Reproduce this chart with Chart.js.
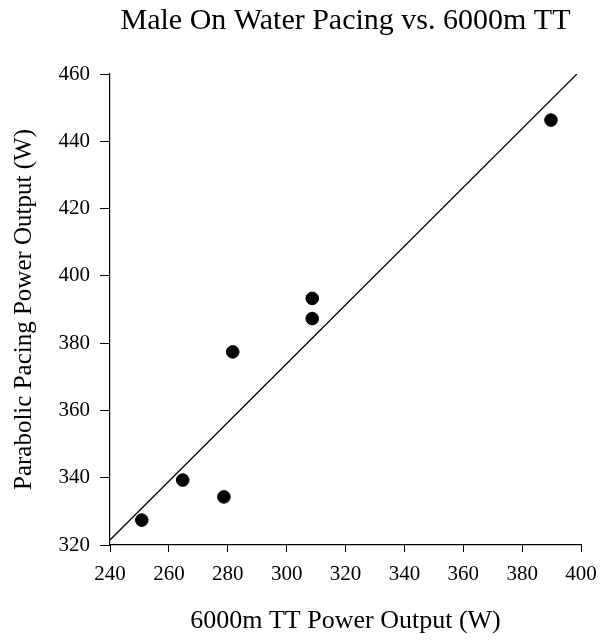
<!DOCTYPE html>
<html>
<head>
<meta charset="utf-8">
<script src="https://cdn.jsdelivr.net/npm/chart.js@4"></script>
<style>
html,body{margin:0;padding:0;background:#fff;}
#wrap{width:600px;height:640px;}
</style>
</head>
<body>
<div id="wrap"><canvas id="c" width="600" height="640"></canvas></div>
<script>
const titleText = "Male On Water Pacing vs. 6000m TT";
const xTitle = "6000m TT Power Output (W)";
const yTitle = "Parabolic Pacing Power Output (W)";
const ttPower = [250.8, 264.7, 278.7, 281.7, 308.7, 308.7, 389.8];
const pacingPower = [327.4, 339.3, 334.3, 377.4, 393.3, 387.3, 446.3];
const lineX = [240, 398.6];
const lineY = [321.5, 460];
const xTicks = [240, 260, 280, 300, 320, 340, 360, 380, 400];
const yTicks = [320, 340, 360, 380, 400, 420, 440, 460];

const FONT = "'Liberation Serif', 'Times New Roman', serif";
const pts = ttPower.map((x, i) => ({x: x, y: pacingPower[i]}));
const linePts = lineX.map((x, i) => ({x: x, y: lineY[i]}));

new Chart(document.getElementById('c'), {
  type: 'scatter',
  data: {
    datasets: [
      {data: pts, backgroundColor: '#000', borderColor: '#000', pointRadius: 6.3, pointHoverRadius: 6.3},
      {data: linePts, showLine: true, borderColor: '#000', borderWidth: 1.2, pointRadius: 0, fill: false}
    ]
  },
  options: {
    responsive: false,
    animation: false,
    layout: {padding: {left: 0, right: 19, top: 0, bottom: 0}},
    plugins: {
      legend: {display: false},
      tooltip: {enabled: false},
      title: {display: true, fullSize: false, text: titleText, color: '#000', font: {family: FONT, size: 30, weight: 'normal'}, padding: {top: 3, bottom: 35}}
    },
    scales: {
      x: {
        type: 'linear', min: 240, max: 400,
        afterBuildTicks: s => { s.ticks = xTicks.map(v => ({value: v})); },
        afterFit: s => { s.height = 95; s.paddingRight = 0; s.paddingLeft = 0; },
        grid: {drawOnChartArea: false, drawTicks: true, tickLength: 7, color: '#000', tickColor: '#000'},
        border: {color: '#000', width: 1.2},
        ticks: {color: '#000', font: {family: FONT, size: 21}, padding: 10, maxRotation: 0},
        title: {display: true, text: xTitle, color: '#000', font: {family: FONT, size: 26}, padding: {top: 0, bottom: 3}}
      },
      y: {
        type: 'linear', min: 320, max: 460,
        afterBuildTicks: s => { s.ticks = yTicks.map(v => ({value: v})); },
        afterFit: s => { s.width = 110; },
        grid: {drawOnChartArea: false, drawTicks: true, tickLength: 10, color: '#000', tickColor: '#000'},
        border: {color: '#000', width: 1.2},
        ticks: {color: '#000', font: {family: FONT, size: 21}, padding: 10},
        title: {display: true, text: yTitle, color: '#000', font: {family: FONT, size: 25}, padding: {top: 9, bottom: 0}}
      }
    }
  }
});
</script>
</body>
</html>
